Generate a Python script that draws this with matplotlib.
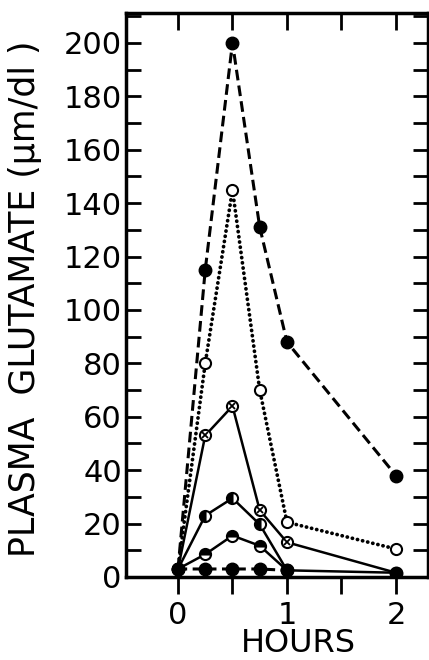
import matplotlib
matplotlib.use("Agg")
import matplotlib.pyplot as plt
import numpy as np

# ---- data ----
hours = [0, 0.25, 0.5, 0.75, 1, 2]
hours_short = [0, 0.25, 0.5, 0.75, 1]
filled_high = [3, 115, 200, 131, 88, 38]
open_circle = [3, 80, 145, 70, 20.5, 10.5]
crossed = [3, 53, 64, 25, 13, 1.6]
left_half = [3, 23, 29.5, 19.7, 2.5]
top_half = [3, 8.5, 15.5, 11.7, 2.5]
baseline = [3, 3, 3, 3, 2.5, 1.6]

xticks = [0, 1, 2]
xminor = [0.5, 1.5]
yticks = list(range(0, 201, 20))
yminor = list(range(10, 211, 10))

W, H = 429, 660
fig = plt.figure(figsize=(W / 100, H / 100), dpi=100)
ax = fig.add_axes([126 / W, 1 - 577 / H, (428 - 126) / W, (577 - 13) / H])
ax.set_xlim(-0.477, 2.294)
ax.set_ylim(0, 211.2)

lw_line = 2.2
ms_big = 9
mew = 1.5

# lines
ax.plot(hours, filled_high, color="k", lw=lw_line, ls=(0, (3.5, 1.7)),
        dash_capstyle="butt", zorder=2)
ax.plot(hours, open_circle, color="k", lw=2.7, ls=(0, (0.05, 1.35)),
        dash_capstyle="round", zorder=2)
ax.plot(hours, crossed, color="k", lw=1.8, ls="-", zorder=2)
ax.plot(hours_short, left_half, color="k", lw=1.8, ls="-", zorder=2)
ax.plot(hours_short, top_half, color="k", lw=1.8, ls="-", zorder=2)
ax.plot(hours[:5], baseline[:5], color="k", lw=lw_line, ls=(0, (3.0, 1.8)),
        dash_capstyle="butt", zorder=2)
ax.plot(hours[4:], baseline[4:], color="k", lw=1.8, ls="-", zorder=2)

# markers
ax.plot(hours, filled_high, ls="none", marker="o", ms=ms_big, mfc="k", mec="k", zorder=4)
ax.plot(hours, open_circle, ls="none", marker="o", ms=8, mfc="white", mec="k", mew=mew, zorder=4)
ax.plot(hours, crossed, ls="none", marker="o", ms=8, mfc="white", mec="k", mew=mew, zorder=4)
ax.plot(hours, crossed, ls="none", marker="x", ms=4, mec="k", mew=1.3, zorder=5)
ax.plot(hours_short, left_half, ls="none", marker="o", ms=8, fillstyle="left",
        mfc="k", mfcalt="white", mec="k", mew=mew, zorder=4)
ax.plot(hours_short, top_half, ls="none", marker="o", ms=8, fillstyle="top",
        mfc="k", mfcalt="white", mec="k", mew=mew, zorder=4)
ax.plot(hours, baseline, ls="none", marker="o", ms=ms_big, mfc="k", mec="k", zorder=6)

# spines
for s in ax.spines.values():
    s.set_linewidth(2.5)
    s.set_color("k")

# ticks
ax.set_xticks(xticks)
ax.set_xticklabels([str(t) for t in xticks])
ax.set_xticks(xminor, minor=True)
ax.set_yticks(yticks)
ax.set_yticklabels([str(t) for t in yticks])
ax.set_yticks(yminor, minor=True)
ax.tick_params(axis="x", which="both", direction="out", length=12, width=2,
               bottom=True, top=False, labelsize=22, pad=5)
ax.tick_params(axis="y", which="both", direction="in", length=11, width=2,
               left=True, right=True, labelsize=22, pad=3)

ax2 = ax.twiny()
ax2.set_xlim(ax.get_xlim())
ax2.set_xticks(xticks + xminor)
ax2.tick_params(axis="x", which="both", direction="in", length=12, width=2,
                top=True, bottom=False, labeltop=False, labelbottom=False)
for s in ax2.spines.values():
    s.set_visible(False)

fig.text(298 / W, 1 - 652 / H, "HOURS", ha="center", va="baseline", fontsize=23)
fig.text(35 / W, 1 - 299 / H, "PLASMA  GLUTAMATE (μm/dl )", rotation=90,
         rotation_mode="anchor", ha="center", va="baseline", fontsize=25)

fig.savefig("out.png", dpi=100, facecolor="white")
